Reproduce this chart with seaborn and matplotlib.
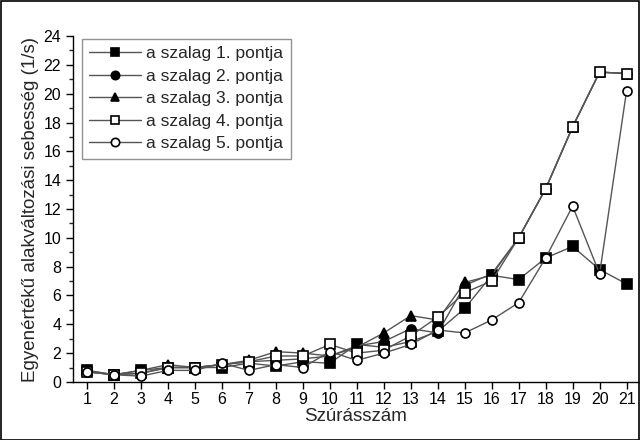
import matplotlib
matplotlib.use("Agg")
import matplotlib.pyplot as plt
import seaborn as sns
import pandas as pd
from matplotlib.ticker import MultipleLocator
from matplotlib.patches import Rectangle

x = list(range(1, 22))
s1 = [0.8, 0.5, 0.8, 1.0, 1.0, 1.0, 1.3, 1.1, 1.4, 1.3, 2.6, 2.4, 2.8, 3.5, 5.1, 7.4, 7.1, 8.6, 9.4, 7.8, 6.8]
s2 = [0.7, 0.5, 0.6, 1.0, 1.0, 1.2, 1.4, 1.5, 1.6, 1.8, 2.5, 2.8, 3.7, 3.4, 6.7, 7.5, 10.0, 13.4, 17.7, 21.5, 21.4]
s3 = [0.8, 0.5, 0.8, 1.2, 1.0, 1.2, 1.5, 2.1, 2.0, 1.8, 2.4, 3.4, 4.6, 4.3, 6.9, 7.4, 10.0, 13.4, 17.7, 21.5, 21.4]
s4 = [0.7, 0.5, 0.6, 1.0, 1.0, 1.2, 1.4, 1.8, 1.8, 2.6, 2.0, 2.2, 3.2, 4.5, 6.2, 7.0, 10.0, 13.4, 17.7, 21.5, 21.4]
s5 = [0.7, 0.5, 0.4, 0.8, 0.8, 1.3, 0.8, 1.2, 1.0, 2.1, 1.5, 2.0, 2.6, 3.6, 3.4, 4.3, 5.5, 8.6, 12.2, 7.5, 20.2]
labels = ["a szalag 1. pontja", "a szalag 2. pontja", "a szalag 3. pontja",
          "a szalag 4. pontja", "a szalag 5. pontja"]
xlabel = "Szúrásszám"
ylabel = "Egyenértékű alakváltozási sebesség (1/s)"

series = [s1, s2, s3, s4, s5]
markers = ["s", "o", "^", "s", "o"]
faces = ["black", "black", "black", "white", "white"]

sns.set_style("ticks")
plt.rcParams["font.family"] = ["Liberation Sans", "DejaVu Sans"]

fig = plt.figure(figsize=(6.4, 4.4), dpi=100)
ax = fig.add_axes([0.114, 0.132, 0.884, 0.786])

for vals, lab, m, fc in zip(series, labels, markers, faces):
    df = pd.DataFrame({"x": x, "y": vals})
    sns.lineplot(data=df, x="x", y="y", ax=ax, color="#555555", linewidth=1.0,
                 marker=m, markersize=6.5 if m != "^" else 7.5, markerfacecolor=fc,
                 markeredgecolor="black", markeredgewidth=1.2, label=lab)

ax.set_xlim(0.48, 21.45)
ax.set_ylim(0, 24)
ax.set_xticks(x)
ax.yaxis.set_major_locator(MultipleLocator(2))
ax.yaxis.set_minor_locator(MultipleLocator(1))
ax.tick_params(axis="both", which="major", direction="out", length=5, width=1, labelsize=11.5, colors="black")
ax.tick_params(axis="y", which="minor", direction="out", length=3, width=1)
ax.tick_params(axis="x", pad=2)
for sp in ["top", "right"]:
    ax.spines[sp].set_visible(False)
for sp in ["left", "bottom"]:
    ax.spines[sp].set_linewidth(1.0)
    ax.spines[sp].set_color("black")

ax.set_xlabel(xlabel, fontsize=13.5, labelpad=1)
ax.set_ylabel(ylabel, fontsize=13.5, labelpad=3)

leg = ax.legend(loc="upper left", bbox_to_anchor=(0.006, 1.008), frameon=True, fancybox=False,
                edgecolor="#777777", fontsize=12.5, handlelength=3.0, handletextpad=0.25,
                borderpad=0.45, labelspacing=0.42, borderaxespad=0.3)
leg.get_frame().set_linewidth(1.0)
for h in leg.legend_handles:
    h.set_markersize(6)

fig.patches.append(Rectangle((0.001, 0.001), 0.997, 0.997, transform=fig.transFigure,
                             fill=False, edgecolor="black", linewidth=1.2))

fig.savefig("out.png", dpi=100)
